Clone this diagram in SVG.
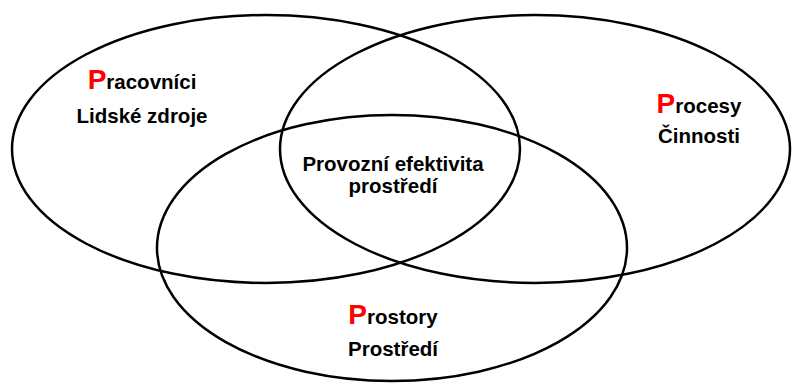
<svg xmlns="http://www.w3.org/2000/svg" width="792" height="383" viewBox="0 0 792 383">
  <style>
    .ring { fill: none; stroke: #000; stroke-width: 2.5; }
    .lbl { font-family: "Liberation Sans", Arial, sans-serif; font-weight: bold; font-size: 20.5px; fill: #000; text-anchor: middle; }
    .cap { fill: #ff0000; font-size: 28px; }
  </style>
  <rect width="792" height="383" fill="#fff"/>

  <!-- Three overlapping sets -->
  <g id="sets">
    <ellipse id="set-pracovnici" class="ring" cx="266" cy="149" rx="254" ry="134"/>
    <ellipse id="set-procesy" class="ring" cx="535" cy="149" rx="255" ry="134"/>
    <ellipse id="set-prostory" class="ring" cx="392" cy="248" rx="235" ry="133"/>
  </g>

  <g id="label-pracovnici">
    <text class="lbl" x="142" y="89"><tspan class="cap">P</tspan>racovníci</text>
    <text class="lbl" x="142" y="123">Lidské zdroje</text>
  </g>

  <g id="label-procesy">
    <text class="lbl" x="699" y="113"><tspan class="cap">P</tspan>rocesy</text>
    <text class="lbl" x="699" y="143">Činnosti</text>
  </g>

  <g id="label-center">
    <text class="lbl" x="393" y="171">Provozní efektivita</text>
    <text class="lbl" x="393" y="193">prostředí</text>
  </g>

  <g id="label-prostory">
    <text class="lbl" x="393" y="324"><tspan class="cap">P</tspan>rostory</text>
    <text class="lbl" x="393" y="356">Prostředí</text>
  </g>
</svg>
